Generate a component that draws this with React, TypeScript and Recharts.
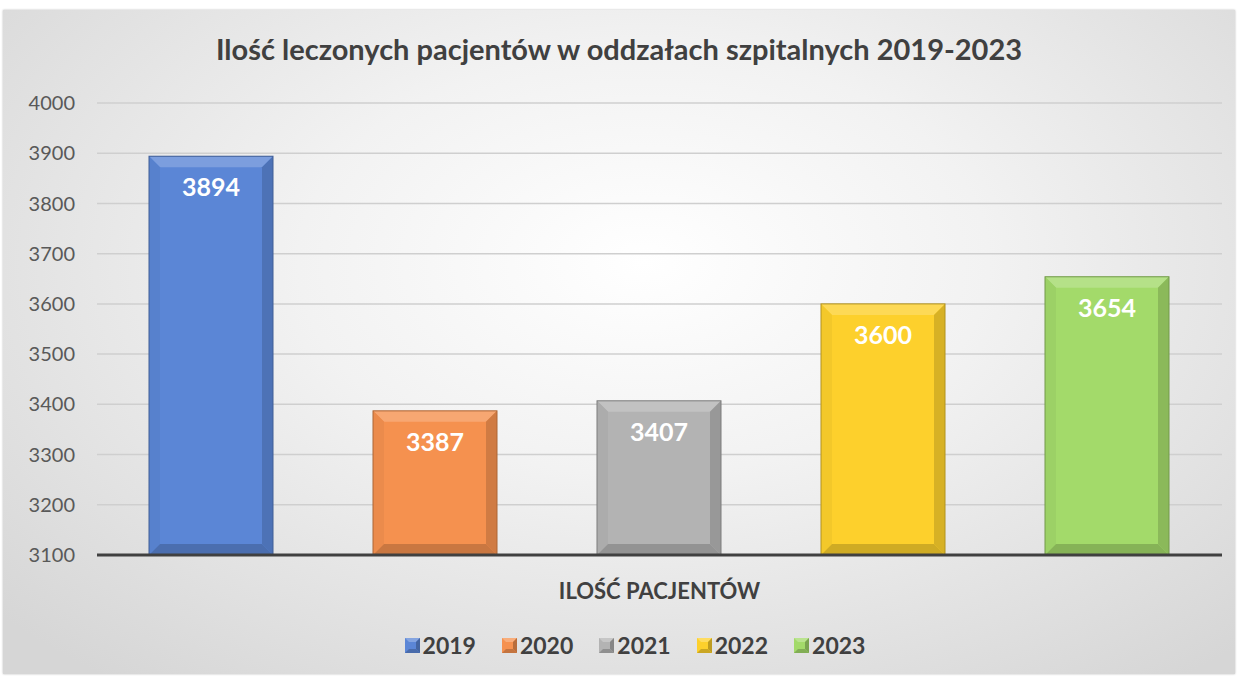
import { BarChart, Bar, XAxis, YAxis, CartesianGrid, LabelList } from 'recharts'

const years = ['2019', '2020', '2021', '2022', '2023']
const patients = [3894, 3387, 3407, 3600, 3654]
const colors = ['#5b86d6', '#f5914f', '#b3b3b3', '#fdd02c', '#a3da6a']
const category = 'ILOŚĆ PACJENTÓW'
const yTicks = [3100, 3200, 3300, 3400, 3500, 3600, 3700, 3800, 3900, 4000]

const row: Record<string, string | number> = { name: category }
years.forEach((y, i) => { row[y] = patients[i] })
const data = [row]

const FONT = 'Lato, "Open Sans", sans-serif'

// lighten/darken a hex colour
function shade(hex: string, amt: number) {
  const n = parseInt(hex.slice(1), 16)
  const f = (c: number) => Math.max(0, Math.min(255, Math.round(amt > 0 ? c + (255 - c) * amt : c * (1 + amt))))
  const r = f(n >> 16), g = f((n >> 8) & 255), b = f(n & 255)
  return `rgb(${r},${g},${b})`
}

function Bevel(props: any) {
  const { x, y, width: w, height: h, fill } = props
  if (!w || !h) return null
  const b = Math.min(11, w / 4, h / 4)
  return (
    <g>
      <rect x={x} y={y} width={w} height={h} fill={fill} />
      <polygon points={`${x},${y} ${x + w},${y} ${x + w - b},${y + b} ${x + b},${y + b}`} fill={shade(fill, 0.2)} />
      <polygon points={`${x},${y} ${x + b},${y + b} ${x + b},${y + h - b} ${x},${y + h}`} fill={shade(fill, -0.04)} />
      <polygon points={`${x + w},${y} ${x + w},${y + h} ${x + w - b},${y + h - b} ${x + w - b},${y + b}`} fill={shade(fill, -0.15)} />
      <polygon points={`${x},${y + h} ${x + w},${y + h} ${x + w - b},${y + h - b} ${x + b},${y + h - b}`} fill={shade(fill, -0.18)} />
      <rect x={x} y={y} width={w} height={h} fill="none" stroke={shade(fill, -0.3)} strokeWidth={1} />
    </g>
  )
}

function LegendIcon({ color }: { color: string }) {
  const s = 15, b = 4
  return (
    <svg width={s} height={s} style={{ marginRight: 3 }}>
      <rect width={s} height={s} fill={color} />
      <polygon points={`0,0 ${s},0 ${s - b},${b} ${b},${b}`} fill={shade(color, 0.25)} />
      <polygon points={`${s},0 ${s},${s} ${s - b},${s - b} ${s - b},${b}`} fill={shade(color, -0.25)} />
      <polygon points={`0,${s} ${s},${s} ${s - b},${s - b} ${b},${s - b}`} fill={shade(color, -0.2)} />
    </svg>
  )
}

export default function App() {
  return (
    <div style={{
      position: 'absolute', left: 3, top: 10, width: 1232, height: 664,
      background: 'radial-gradient(ellipse 70% 80% at 52% 38%, #ffffff 0%, #f2f2f2 40%, #d6d6d6 100%)',
      boxShadow: '0 0 2px #bbb', fontFamily: FONT,
    }}>
      <div style={{ position: 'absolute', top: 21, left: 0, width: '100%', textAlign: 'center', fontSize: 29, fontWeight: 700, color: '#404040' }}>
        Ilość leczonych pacjentów w oddzałach szpitalnych 2019-2023
      </div>
      <BarChart width={1232} height={664} data={data}
        margin={{ top: 93, right: 13, left: 0, bottom: 0 }}
        barCategoryGap={52} barGap={100}>
        <CartesianGrid vertical={false} stroke="#cfcfcf" strokeWidth={1.5} />
        <XAxis dataKey="name" axisLine={{ stroke: '#404040', strokeWidth: 3 }} tickLine={false} height={119}
          tick={{ fill: '#404040', fontSize: 22, fontWeight: 700, fontFamily: FONT }} tickMargin={22} />
        <YAxis domain={[3100, 4000]} ticks={yTicks} width={94} axisLine={false} tickLine={false} tickSize={0} tickMargin={22}
          tick={{ fill: '#595959', fontSize: 20, fontFamily: FONT }} interval={0} allowDataOverflow />
        {years.map((y, i) => (
          <Bar key={y} dataKey={y} fill={colors[i]} shape={Bevel} isAnimationActive={false}>
            <LabelList dataKey={y} position="insideTop" offset={22}
              style={{ fill: '#ffffff', fontSize: 25, fontWeight: 700, fontFamily: FONT }} />
          </Bar>
        ))}
      </BarChart>
      <div style={{ position: 'absolute', top: 621, left: 0, width: '100%', boxSizing: 'border-box', paddingLeft: 32, display: 'flex', justifyContent: 'center', gap: 26, fontWeight: 700, fontSize: 23, color: '#404040' }}>
        {years.map((y, i) => (
          <div key={y} style={{ display: 'flex', alignItems: 'center' }}>
            <LegendIcon color={colors[i]} />
            <span>{y}</span>
          </div>
        ))}
      </div>
    </div>
  )
}
